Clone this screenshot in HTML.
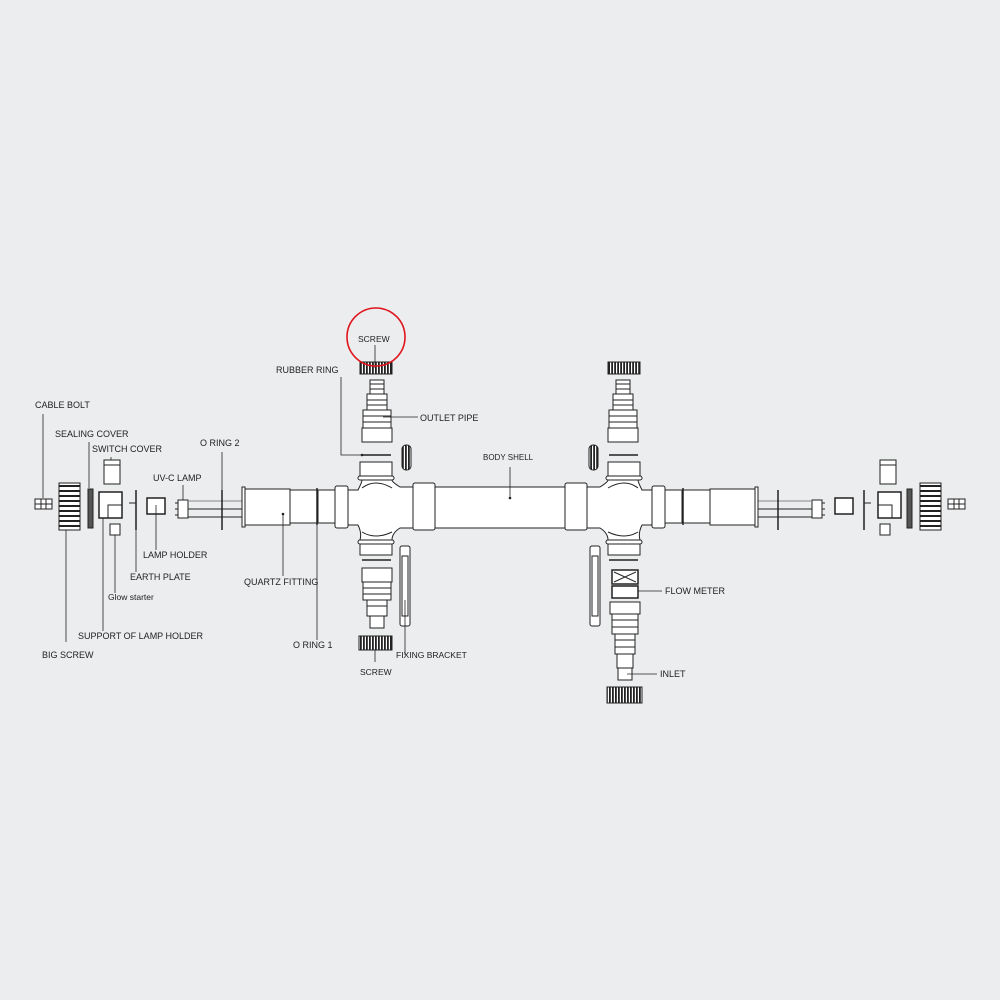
<!DOCTYPE html>
<html><head><meta charset="utf-8"><style>
html,body{margin:0;padding:0;background:#ecedef;}
svg{display:block}
text{font-family:"Liberation Sans",sans-serif;font-size:9px;fill:#222;}
</style></head><body>
<svg width="1000" height="1000" viewBox="0 0 1000 1000" xmlns="http://www.w3.org/2000/svg">
<rect width="1000" height="1000" fill="#ecedef"/>
<defs>
<pattern id="rib" width="3" height="4" patternUnits="userSpaceOnUse"><rect width="3" height="4" fill="#fff"/><rect width="1.8" height="4" fill="#222"/></pattern>
<pattern id="hrib" width="4" height="5" patternUnits="userSpaceOnUse"><rect width="4" height="5" fill="#fff"/><rect width="4" height="2" fill="#222"/></pattern>
<g id="half" fill="none" stroke="#222" stroke-width="1">
  <rect x="35" y="499" width="17" height="10" fill="#fff"/><line x1="41" y1="499" x2="41" y2="509"/><line x1="46" y1="499" x2="46" y2="509"/><line x1="35" y1="504" x2="52" y2="504"/>
  <rect x="59" y="483" width="21" height="47" fill="url(#hrib)"/>
  <rect x="88" y="489" width="5" height="39" fill="#555"/>
  <rect x="104" y="460" width="16" height="24" fill="#fff"/><line x1="104" y1="465" x2="120" y2="465"/>
  <rect x="99" y="492" width="23" height="26" fill="#fff" stroke-width="1.5"/><rect x="108" y="505" width="14" height="13"/>
  <rect x="110" y="524" width="10" height="11" fill="#fff"/>
  <line x1="136" y1="490" x2="136" y2="530" stroke-width="1.5"/><line x1="129" y1="503" x2="136" y2="503"/>
  <rect x="147" y="498" width="18" height="16" fill="#fff" stroke-width="1.5"/>
  <rect x="178" y="500" width="10" height="18" fill="#fff"/><line x1="175" y1="503" x2="178" y2="503"/><line x1="175" y1="509" x2="178" y2="509"/><line x1="175" y1="515" x2="178" y2="515"/>
  <line x1="188" y1="501" x2="243" y2="501" stroke="#888"/><line x1="188" y1="509" x2="243" y2="509"/><line x1="188" y1="517" x2="243" y2="517"/>
  <line x1="222" y1="490" x2="222" y2="530" stroke-width="1.5"/>
  <rect x="242" y="487" width="3" height="40" fill="#fff"/>
  <rect x="245" y="489" width="45" height="36" fill="#fff"/>
  <rect x="290" y="490" width="27" height="33" fill="#fff"/>
  <line x1="317" y1="488" x2="317" y2="525" stroke-width="1.5"/>
  <rect x="318" y="490" width="17" height="33" fill="#fff"/>
  <rect x="335" y="486" width="13" height="42" rx="2" fill="#fff"/>
  <path d="M348 490 L358 490 Q362 482 362 480 L392 480 Q392 482 400 487 L413 487 L413 528 L400 528 Q392 533 392 540 L360 540 Q362 533 358 525 L348 525 Z" fill="#fff"/>
  <path d="M362 488 Q375 478 392 488" /><path d="M362 532 Q375 540 392 532"/>
  <rect x="360" y="462" width="32" height="17" fill="#fff"/><rect x="358" y="476" width="36" height="4" rx="2" fill="#fff"/>
  <rect x="360" y="541" width="32" height="14" fill="#fff"/><rect x="358" y="540" width="36" height="4" rx="2" fill="#fff"/>
  <rect x="413" y="483" width="22" height="47" rx="2" fill="#fff"/>
  <line x1="362" y1="455" x2="391" y2="455" stroke-width="1.5"/><line x1="362" y1="560" x2="391" y2="560" stroke-width="1.5"/>
  <rect x="370" y="380" width="14" height="14" fill="#fff"/><line x1="370" y1="384" x2="384" y2="384"/><line x1="370" y1="389" x2="384" y2="389"/>
  <rect x="367" y="394" width="20" height="16" fill="#fff"/><line x1="367" y1="400" x2="387" y2="400"/><line x1="367" y1="405" x2="387" y2="405"/>
  <rect x="363" y="410" width="28" height="18" fill="#fff"/><line x1="363" y1="416" x2="391" y2="416"/><line x1="363" y1="422" x2="391" y2="422"/>
  <rect x="362" y="428" width="30" height="14" fill="#fff"/>
  <rect x="360" y="362" width="32" height="12" fill="url(#rib)"/>
  <rect x="402" y="445" width="9" height="25" rx="4" fill="url(#rib)"/>
  <rect x="400" y="546" width="10" height="80" rx="2" fill="#fff"/><rect x="402" y="556" width="6" height="60"/>
</g>
</defs>
<use href="#half"/>
<use href="#half" transform="translate(1000,0) scale(-1,1)"/>

<g fill="none" stroke="#222" stroke-width="1">
  <rect x="435" y="487" width="130" height="41" fill="#fff"/>
  <rect x="362" y="568" width="30" height="14" fill="#fff"/>
  <rect x="363" y="582" width="28" height="18" fill="#fff"/><line x1="363" y1="588" x2="391" y2="588"/><line x1="363" y1="594" x2="391" y2="594"/>
  <rect x="367" y="600" width="20" height="16" fill="#fff"/><line x1="367" y1="606" x2="387" y2="606"/>
  <rect x="370" y="616" width="14" height="12" fill="#fff"/>
  <rect x="359" y="636" width="33" height="14" fill="url(#rib)"/>
  <rect x="612" y="570" width="26" height="14" fill="#fff" stroke-width="1.5"/><path d="M614 572 L636 582 M636 572 L614 582"/>
  <rect x="612" y="586" width="26" height="12" fill="#fff" stroke-width="1.5"/>
  <rect x="610" y="602" width="30" height="12" fill="#fff"/>
  <rect x="612" y="614" width="26" height="20" fill="#fff"/><line x1="612" y1="620" x2="638" y2="620"/><line x1="612" y1="627" x2="638" y2="627"/>
  <rect x="615" y="634" width="20" height="20" fill="#fff"/><line x1="615" y1="640" x2="635" y2="640"/><line x1="615" y1="647" x2="635" y2="647"/>
  <rect x="617" y="654" width="16" height="14" fill="#fff"/>
  <rect x="618" y="668" width="14" height="12" fill="#fff"/>
  <rect x="607" y="687" width="35" height="16" fill="url(#rib)"/>
</g>
<g stroke="#222" stroke-width="0.8" fill="none">
  <line x1="43" y1="414" x2="43" y2="498"/>
  <line x1="89" y1="442" x2="89" y2="488"/>
  <line x1="111" y1="457" x2="111" y2="460"/>
  <line x1="222" y1="452" x2="222" y2="490"/>
  <line x1="183" y1="485" x2="183" y2="500"/>
  <line x1="156" y1="505" x2="156" y2="550"/>
  <line x1="136" y1="530" x2="136" y2="572"/>
  <line x1="115" y1="535" x2="115" y2="593"/>
  <line x1="103" y1="518" x2="103" y2="631"/>
  <line x1="66" y1="530" x2="66" y2="642"/>
  <line x1="283" y1="514" x2="283" y2="576"/>
  <line x1="317" y1="523" x2="317" y2="640"/>
  <polyline points="341,377 341,455 362,455"/>
  <line x1="375" y1="345" x2="375" y2="368"/>
  <line x1="383" y1="417" x2="418" y2="417"/>
  <line x1="510" y1="467" x2="510" y2="497"/>
  <line x1="405" y1="600" x2="405" y2="655"/>
  <line x1="375" y1="650" x2="375" y2="662"/>
  <line x1="638" y1="591" x2="662" y2="591"/>
  <line x1="627" y1="674" x2="657" y2="674"/>
</g>
<g fill="#222"><circle cx="510" cy="498" r="1.3"/><circle cx="283" cy="514" r="1.3"/><circle cx="362" cy="455" r="1.3"/></g>
<circle cx="376" cy="337" r="29" fill="none" stroke="#e0141b" stroke-width="1.6"/>
<text x="35" y="408">CABLE BOLT</text>
<text x="55" y="437">SEALING COVER</text>
<text x="92" y="452">SWITCH COVER</text>
<text x="200" y="446">O RING 2</text>
<text x="153" y="481">UV-C LAMP</text>
<text x="143" y="558">LAMP HOLDER</text>
<text x="130" y="580">EARTH PLATE</text>
<text x="108" y="600" style="font-size:8.5px">Glow starter</text>
<text x="244" y="585">QUARTZ FITTING</text>
<text x="78" y="639">SUPPORT OF LAMP HOLDER</text>
<text x="42" y="658">BIG SCREW</text>
<text x="293" y="648">O RING 1</text>
<text x="276" y="373">RUBBER RING</text>
<text x="358" y="342" style="font-size:8.5px">SCREW</text>
<text x="420" y="421">OUTLET PIPE</text>
<text x="483" y="460" style="font-size:8px">BODY SHELL</text>
<text x="396" y="658" style="font-size:8.5px">FIXING BRACKET</text>
<text x="360" y="675" style="font-size:8.5px">SCREW</text>
<text x="665" y="594">FLOW METER</text>
<text x="660" y="677">INLET</text>
</svg>
</body></html>
